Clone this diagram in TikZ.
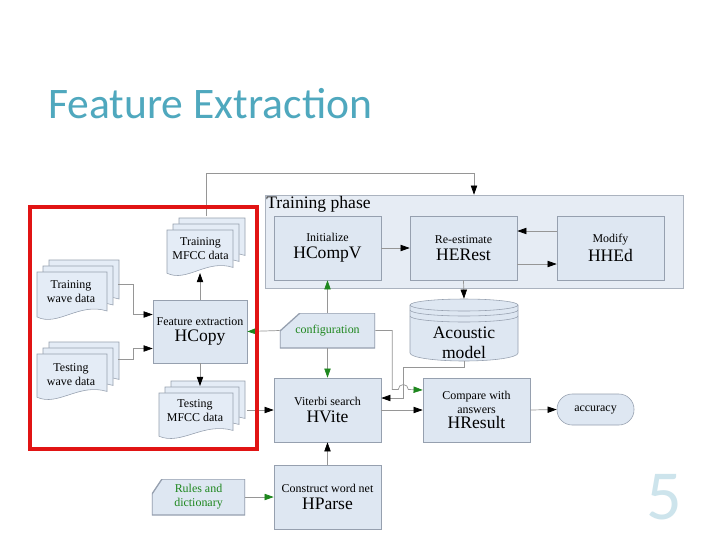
\documentclass[tikz,border=0pt]{standalone}
\usepackage{fontspec}
\setmainfont{Liberation Serif}
\newfontfamily\titlefont{Carlito}
\usetikzlibrary{arrows.meta,calc}

\definecolor{boxfill}{RGB}{222,231,242}
\definecolor{docfill}{RGB}{228,236,246}
\definecolor{phasefill}{RGB}{230,236,244}
\definecolor{boxline}{RGB}{150,160,175}
\definecolor{lineclr}{RGB}{150,150,150}
\definecolor{arrgreen}{RGB}{30,135,30}
\definecolor{titleclr}{RGB}{79,168,190}
\definecolor{numclr}{RGB}{205,228,236}
\definecolor{frameclr}{RGB}{225,20,20}

\newcommand{\smtxt}{\fontsize{8.5}{10}\selectfont}
\newcommand{\bgtxt}{\fontsize{12.5}{14}\selectfont}

\begin{document}
\begin{tikzpicture}[x=0.025cm,y=-0.025cm]
\tikzset{procbox/.style = {rectangle, fill=boxfill, draw=boxline, inner sep=0pt, align=center,
    minimum width=2.675cm, minimum height=1.6cm, font=\smtxt}}
\tikzset{phasebox/.style = {rectangle, fill=phasefill, draw=boxline!80, inner sep=0pt,
    minimum width=10.45cm, minimum height=2.325cm}}
\tikzset{cardbox/.style 2 args = {rectangle, inner sep=0pt, align=center, text=arrgreen, font=\smtxt,
    path picture={\draw[fill=boxfill, draw=boxline, line width=0.9pt]
      ($(path picture bounding box.north west)+(#1,0)$) -- (path picture bounding box.north east)
      -- (path picture bounding box.south east) -- (path picture bounding box.south west)
      -- ($(path picture bounding box.north west)+(0,#2)$) -- cycle;}}}
\tikzset{termbox/.style = {rectangle, rounded corners=0.38cm, fill=boxfill, draw=boxline,
    inner sep=0pt, minimum width=1.925cm, minimum height=0.775cm, font=\smtxt}}
\tikzset{doctext/.style = {align=center, inner sep=0pt, font=\smtxt}}
\tikzset{docpage/.style = {fill=docfill, draw=boxline}}
\tikzset{conn/.style = {draw=lineclr, line width=0.5pt, -{Triangle[length=6.5pt,width=4.5pt,color=black]}}}
\tikzset{gconn/.style = {draw=lineclr, line width=0.5pt, -{Triangle[length=6.5pt,width=4.5pt,color=arrgreen]}}}
\tikzset{pics/docstack/.style 2 args = {code = {
    \foreach \d in {12,6,0}
      \draw[docpage] (\d,-\d) -- (\d+#1,-\d) -- (\d+#1,-\d+0.78*#2)
        .. controls (\d+0.6*#1,-\d+0.6*#2) and (\d+0.3*#1,-\d+1.1*#2) .. (\d,-\d+0.9*#2) -- cycle;
}}}

\useasboundingbox (0,0) rectangle (720,540);
\fill[white] (0,0) rectangle (720,540);

\node[anchor=base west, inner sep=0pt, text=titleclr, font=\titlefont\fontsize{31}{36}\selectfont]
    (title) at (48,118) {Feature Extraction};
\node[anchor=base west, inner sep=0pt, text=numclr, font=\titlefont\fontsize{50}{50}\selectfont]
    (pagenum) at (646,519) {5};

% training phase
\node[phasebox] (phase) at (474,241.5) {};
\node[anchor=north west, inner sep=1pt, font=\bgtxt] (phaselabel) at (phase.north west) {Training phase};
\node[procbox] (hcompv) at (327.5,248) {Initialize\\[2pt]{\bgtxt HCompV}};
\node[procbox] (herest) at (463.5,248) {Re-estimate\\[2pt]{\bgtxt HERest}};
\node[procbox] (hhed) at (610.5,248) {Modify\\[2pt]{\bgtxt HHEd}};

% feature extraction
\pic at (37,272) {docstack={70}{50}};
\node[doctext] (trwave) at (71,292) {Training\\wave data};
\pic at (37,354) {docstack={70}{48}};
\node[doctext] (tewave) at (71,375) {Testing\\wave data};
\pic at (167,230) {docstack={66}{48}};
\node[doctext] (trmfcc) at (200.5,249) {Training\\MFCC data};
\pic at (159,393) {docstack={74}{48}};
\node[doctext] (temfcc) at (195,411) {Testing\\MFCC data};
\node[procbox, minimum width=2.35cm, minimum height=1.575cm] (hcopy) at (200,331.5)
    {Feature extraction\\[1pt]{\bgtxt HCopy}};

% acoustic model
\draw[docpage, fill=boxfill] (410,305) -- (410,353) arc[start angle=180, end angle=0, x radius=54, y radius=8]
    -- (518,305) arc[start angle=360, end angle=180, x radius=54, y radius=6] -- cycle;
\draw[boxline] (410,305) arc[start angle=180, end angle=0, x radius=54, y radius=6];
\draw[boxline] (410,310) arc[start angle=180, end angle=0, x radius=54, y radius=6];
\draw[boxline] (410,316) arc[start angle=180, end angle=0, x radius=54, y radius=6];
\node[inner sep=0pt, minimum width=2.7cm, minimum height=1.55cm] (acoustic) at (464,330) {};
\node[align=center, inner sep=0pt, font=\bgtxt] (acoustictxt) at (464,343) {Acoustic\\model};

% testing
\node[cardbox={20}{18}, minimum width=2.375cm, minimum height=0.875cm] (config) at (327.5,330.5) {configuration};
\node[procbox] (hvite) at (327.5,410) {Viterbi search\\[2pt]{\bgtxt HVite}};
\node[procbox] (hresult) at (476.5,410) {Compare with\\answers\\[1pt]{\bgtxt HResult}};
\node[termbox] (accuracy) at (595.5,409.5) {accuracy};
\node[procbox] (hparse) at (327.5,497) {Construct word net\\[2pt]{\bgtxt HParse}};
\node[cardbox={10}{15}, minimum width=2.325cm, minimum height=0.9cm] (rules) at (198.5,497) {Rules and\\dictionary};

% connectors
\draw[conn] ($(trwave)+(47,-8)$) -- ++(15,0) |- ($(hcopy.west)+(0,-17)$);
\draw[conn] ($(tewave)+(47,-16)$) -- ++(15,0) |- ($(hcopy.west)+(0,17)$);
\draw[conn] (hcopy.north) -- ($(hcopy.north |- trmfcc.center)+(0,24)$);
\draw[conn] (hcopy.south) -- ($(hcopy.south |- temfcc.center)+(0,-25)$);
\draw[conn] ($(temfcc)+(52,-1)$) -- (hvite.west);
\draw[conn] ($(trmfcc)+(6,-33)$) -- ++(0,-43) -| (phase.north);
\draw[conn] (hcompv.east) -- (herest.west);
\draw[conn] ($(hhed.west)+(0,-17)$) -- ($(herest.east)+(0,-17)$);
\draw[conn] ($(herest.east)+(0,16)$) -- ($(hhed.west)+(0,16)$);
\draw[conn] (herest.south) -- (acoustic.north);
\draw[conn] (acoustic.south) -- ++(0,6) -- ++(-61,0) |- ($(hvite.east)+(0,-12)$);
\draw[conn] (hvite.east) -- (hresult.west);
\draw[conn] (hresult.east) -- (accuracy.west);
\draw[conn] (hparse.north) -- (hvite.south);
\draw[gconn] (config.north) -- (hcompv.south);
\draw[gconn] (config.south) -- (hvite.north);
\draw[gconn] (config.west) -- (hcopy.east);
\draw[gconn] (config.east) -- ++(17,0) -- ++(0,59) -- ++(6,0)
    arc[start angle=180, end angle=360, radius=5] -- ($(hresult.west)+(0,-20)$);
\draw[gconn] (rules.east) -- (hparse.west);

% highlight frame
\draw[frameclr, line width=2.8pt] (30,207) rectangle (257,449);
\end{tikzpicture}
\end{document}
